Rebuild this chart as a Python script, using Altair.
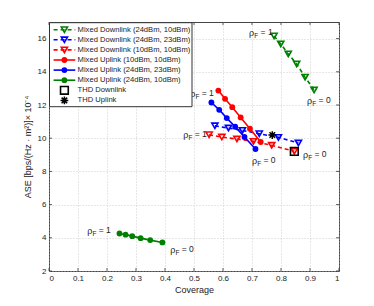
import altair as alt
import pandas as pd

# ---------------- data ----------------
series_names = [
    "Mixed Downlink (24dBm, 10dBm)",
    "Mixed Downlink (24dBm, 23dBm)",
    "Mixed Downlink (10dBm, 10dBm)",
    "Mixed Uplink (10dBm, 10dBm)",
    "Mixed Uplink (24dBm, 23dBm)",
    "Mixed Uplink (24dBm, 10dBm)",
    "THD Downlink",
    "THD Uplink",
]

gdl_x = [0.776, 0.799, 0.825, 0.854, 0.883, 0.914]
gdl_y = [16.16, 15.68, 15.08, 14.47, 13.68, 12.91]

bdl_x = [0.572, 0.619, 0.667, 0.725, 0.791, 0.860]
bdl_y = [10.75, 10.61, 10.47, 10.27, 10.05, 9.71]

rdl_x = [0.552, 0.596, 0.648, 0.705, 0.768, 0.846]
rdl_y = [10.21, 10.07, 9.95, 9.81, 9.57, 9.21]

rul_x = [0.584, 0.607, 0.632, 0.661, 0.693, 0.730]
rul_y = [12.87, 12.37, 11.87, 11.25, 10.57, 9.77]

bul_x = [0.560, 0.587, 0.613, 0.642, 0.674, 0.712]
bul_y = [12.15, 11.71, 11.21, 10.69, 10.07, 9.35]

gul_x = [0.243, 0.264, 0.287, 0.316, 0.349, 0.391]
gul_y = [4.26, 4.19, 4.10, 3.98, 3.86, 3.72]

thd_dl_x = [0.846]
thd_dl_y = [9.21]
thd_ul_x = [0.770]
thd_ul_y = [10.19]

# annotation labels (rho_F = ...)
ann_x = [0.690, 0.890, 0.487, 0.463, 0.700, 0.876, 0.132, 0.418]
ann_y = [16.40, 12.31, 12.73, 10.25, 8.69, 9.05, 4.44, 3.30]
ann_val = ["= 1", "= 0", "= 1", "= 1", "= 0", "= 0", "= 1", "= 0"]

x_ticks = [0, 0.1, 0.2, 0.3, 0.4, 0.5, 0.6, 0.7, 0.8, 0.9, 1]
y_ticks = [2, 4, 6, 8, 10, 12, 14, 16]

# ---------------- styles ----------------
GREEN = "#008000"
BLUE = "#0000ff"
RED = "#ff0000"
BLACK = "#000000"
STAR = "M-1,0L1,0M0,-1L0,1M-0.72,-0.72L0.72,0.72M-0.72,0.72L0.72,-0.72"
FONT = "Liberation Sans"

W, H = 290, 249
XMIN, XMAX, YMIN, YMAX = 0, 1, 2, 17

xs = alt.Scale(domain=[XMIN, XMAX], nice=False, zero=False)
ys = alt.Scale(domain=[YMIN, YMAX], nice=False, zero=False)

X = alt.X("x:Q", scale=xs, title="Coverage",
          axis=alt.Axis(values=x_ticks, format="~g", grid=True))
Y = alt.Y("y:Q", scale=ys, title="ASE [bps/(Hz · m²)]× 10⁻⁴",
          axis=alt.Axis(values=y_ticks, format="~g", grid=True))

series = [
    # x, y, color, dashed, shape, filled
    (gdl_x, gdl_y, GREEN, True, "triangle-down", False),
    (bdl_x, bdl_y, BLUE, True, "triangle-down", False),
    (rdl_x, rdl_y, RED, True, "triangle-down", False),
    (rul_x, rul_y, RED, False, "circle", True),
    (bul_x, bul_y, BLUE, False, "circle", True),
    (gul_x, gul_y, GREEN, False, "circle", True),
    (thd_dl_x, thd_dl_y, BLACK, None, "square", False),
    (thd_ul_x, thd_ul_y, BLACK, None, STAR, False),
]

def marker_kwargs(shape, filled, color):
    if shape == "circle":
        return dict(shape="circle", filled=True, color=color, size=34, opacity=1)
    if shape == "triangle-down":
        return dict(shape="triangle-down", filled=False, color=color, size=38,
                    strokeWidth=1.6, opacity=1)
    if shape == "square":
        return dict(shape="square", filled=False, color=color, size=60,
                    strokeWidth=1.6, opacity=1)
    return dict(shape=shape, filled=False, color=color, size=60,
                strokeWidth=1.5, opacity=1)

layers = []

# inward tick marks (MATLAB style box ticks)
tick_len_y = 3.0 * (YMAX - YMIN) / H
tick_len_x = 3.0 * (XMAX - XMIN) / W
tx = pd.DataFrame({"x": x_ticks})
ty = pd.DataFrame({"y": y_ticks})
tick_col = "#333333"
layers.append(alt.Chart(tx.assign(y=YMIN, y2=YMIN + tick_len_y)).mark_rule(color=tick_col, strokeWidth=0.8)
              .encode(x=X, y=Y, y2="y2:Q"))
layers.append(alt.Chart(tx.assign(y=YMAX, y2=YMAX - tick_len_y)).mark_rule(color=tick_col, strokeWidth=0.8)
              .encode(x=X, y=Y, y2="y2:Q"))
layers.append(alt.Chart(ty.assign(x=XMIN, x2=XMIN + tick_len_x)).mark_rule(color=tick_col, strokeWidth=0.8)
              .encode(x=X, y=Y, x2="x2:Q"))
layers.append(alt.Chart(ty.assign(x=XMAX, x2=XMAX - tick_len_x)).mark_rule(color=tick_col, strokeWidth=0.8)
              .encode(x=X, y=Y, x2="x2:Q"))

for i, (sx, sy, col, dashed, shape, filled) in enumerate(series):
    df = pd.DataFrame({"x": sx, "y": sy, "o": list(range(len(sx)))})
    base = alt.Chart(df)
    if dashed is not None:
        lk = dict(color=col, strokeWidth=1.6)
        if dashed:
            lk["strokeDash"] = [4, 3]
        layers.append(base.mark_line(**lk).encode(x=X, y=Y, order="o:Q"))
    layers.append(base.mark_point(**marker_kwargs(shape, filled, col)).encode(x=X, y=Y))

# annotations rho_F = 0/1
ann = pd.DataFrame({"x": ann_x, "y": ann_y, "t": ann_val})
abase = alt.Chart(ann)
layers.append(abase.mark_text(text="ρ", align="left", baseline="middle", font=FONT,
                              fontSize=9, color="#222", dx=0, dy=1).encode(x=X, y=Y))
layers.append(abase.mark_text(text="F", align="left", baseline="middle", font=FONT,
                              fontSize=6.5, color="#222", dx=5.2, dy=4).encode(x=X, y=Y))
layers.append(abase.mark_text(align="left", baseline="middle", font=FONT,
                              fontSize=8.5, color="#222", dx=11.5, dy=0)
              .encode(x=X, y=Y, text="t:N"))

# ---------------- legend (manual box) ----------------
one = pd.DataFrame({"a": [1]})
LX0, LX1, LY0, LY1 = 0.5, 143, 0.7, 84.7
layers.append(alt.Chart(one).mark_rect(fill="white", stroke="#333", strokeWidth=1)
              .encode(x=alt.value(LX0), x2=alt.value(LX1), y=alt.value(LY0), y2=alt.value(LY1)))
for i, (sx, sy, col, dashed, shape, filled) in enumerate(series):
    yp = 7.7 + 10.1 * i
    if dashed is not None:
        rk = dict(color=col, strokeWidth=1.6)
        if dashed:
            rk["strokeDash"] = [4, 3]
        layers.append(alt.Chart(one).mark_rule(**rk)
                      .encode(x=alt.value(4.6), x2=alt.value(26.3), y=alt.value(yp)))
    layers.append(alt.Chart(one).mark_point(**marker_kwargs(shape, filled, col))
                  .encode(x=alt.value(15.4), y=alt.value(yp)))
    layers.append(alt.Chart(one).mark_text(text=series_names[i], align="left", baseline="middle",
                                           font=FONT, fontSize=7.6, color="#222")
                  .encode(x=alt.value(28.6), y=alt.value(yp)))

chart = alt.layer(*layers).properties(
    width=W, height=H,
    autosize=alt.AutoSizeParams(type="none"),
    padding={"left": 41, "top": 14, "right": 20, "bottom": 28},
).configure_view(
    stroke="#444", strokeWidth=1
).configure_axis(
    domain=False, ticks=False,
    labelFont=FONT, labelFontSize=8, labelColor="#222",
    titleFont=FONT, titleFontSize=9, titleFontWeight="normal", titleColor="#222",
    gridColor="#bbbbbb", gridDash=[1, 2], gridWidth=0.7,
    labelPadding=3,
).configure_axisX(titlePadding=3).configure_axisY(titlePadding=5)

chart.save("out.html", embed_options={"renderer": "svg", "actions": False})
